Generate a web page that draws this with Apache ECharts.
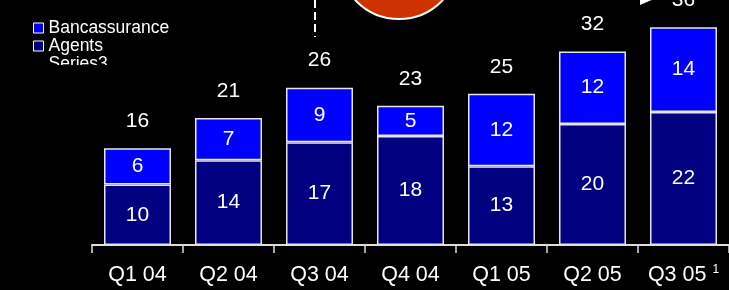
<!DOCTYPE html>
<html>
<head>
<meta charset="utf-8">
<script src="https://cdn.jsdelivr.net/npm/echarts@6/dist/echarts.min.js"></script>
<style>
html,body{margin:0;padding:0;background:#000;}
#c{width:729px;height:290px;}
</style>
</head>
<body>
<div id="c"></div>
<script>
var categories = ['Q1 04','Q2 04','Q3 04','Q4 04','Q1 05','Q2 05','Q3 05'];
var bancassurance = [6,7,9,5,12,12,14];
var agents = [10,14,17,18,13,20,22];
var totals = [16,21,26,23,25,32,36];

var FONT = '"Liberation Sans", Arial, sans-serif';
var chart = echarts.init(document.getElementById('c'), null, {renderer:'canvas'});
var segLabel = {show:true, position:'inside', color:'#fff', fontSize:21, fontFamily:FONT};
chart.setOption({
  backgroundColor:'#000',
  animation:false,
  grid:{left:92, top:3, width:644, height:242, containLabel:false},
  legend:{
    orient:'vertical', left:33, top:19, padding:0, itemWidth:10, itemHeight:10, itemGap:0,
    textStyle:{color:'#fff', fontSize:17.5, fontFamily:FONT},
    data:[
      {name:'Bancassurance', icon:'rect', itemStyle:{color:'#0000ff', borderColor:'#fff', borderWidth:1}},
      {name:'Agents', icon:'rect', itemStyle:{color:'#000080', borderColor:'#fff', borderWidth:1}},
      {name:'Series3', icon:'rect', itemStyle:{opacity:0}, lineStyle:{opacity:0}}
    ]
  },
  xAxis:{
    type:'category', data:categories, boundaryGap:true,
    axisLine:{lineStyle:{color:'#ddd', width:2}},
    axisTick:{show:true, length:8, lineStyle:{color:'#ddd', width:1.5}},
    axisLabel:{color:'#fff', fontSize:21.5, fontFamily:FONT, margin:19, interval:0,
      formatter:function(v,i){ return i===categories.length-1 ? v+' {sup|1}' : v; },
      rich:{sup:{fontSize:12, color:'#fff', fontFamily:FONT, verticalAlign:'top', padding:[0,0,10,0]}}
    }
  },
  yAxis:{type:'value', min:0, max:40, show:false, splitLine:{show:false}},
  series:[
    {name:'Agents', type:'bar', stack:'t', barWidth:67, data:agents,
     itemStyle:{color:'#000080', borderColor:'#e6e6e6', borderWidth:1.5}, label:segLabel},
    {name:'Bancassurance', type:'bar', stack:'t', barWidth:67, data:bancassurance,
     itemStyle:{color:'#0000ff', borderColor:'#e6e6e6', borderWidth:1.5}, label:segLabel},
    {name:'Series3', type:'line', data:totals, symbol:'circle', symbolSize:1,
     lineStyle:{opacity:0}, itemStyle:{color:'rgba(0,0,0,0)'},
     label:{show:true, position:'top', distance:16, color:'#fff', fontSize:21, fontFamily:FONT}}
  ],
  graphic:[
    {type:'rect', shape:{x:28, y:65, width:170, height:20}, style:{fill:'#000'}, z:200},
    {type:'circle', shape:{cx:399, cy:-41, r:60}, style:{fill:'#cc3300', stroke:'#fff', lineWidth:2}, z:50},
    {type:'line', shape:{x1:315, y1:0, x2:315, y2:37}, style:{stroke:'#fff', lineWidth:2, lineDash:[8,4]}, z:50},
    {type:'polygon', shape:{points:[[640,-7],[654,-1],[640,5]]}, style:{fill:'#fff'}, z:50}
  ]
});
</script>
</body>
</html>
